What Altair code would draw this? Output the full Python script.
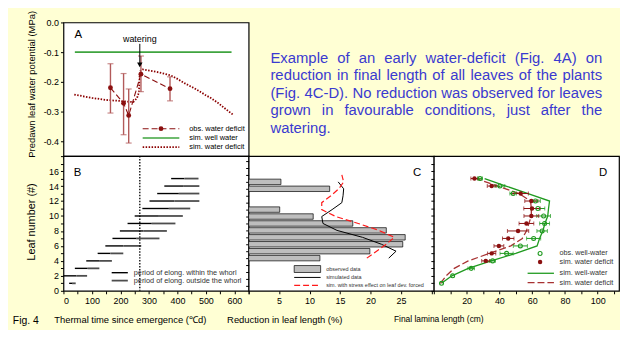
import altair as alt
import pandas as pd

FONT = "Liberation Sans"
BG = "#FFFFD4"
BLUE = "#3A3AD0"
GREEN_A = "#3FA43F"
GREEN_D = "#1F9A1F"
DARKRED = "#8B1010"
ERR_A = "#B25A5A"
DASH_D = "#A83232"
RED_C = "#FF1A1A"

# ---------------- Panel A: predawn leaf water potential ----------------
obs_tt = [165, 211, 229, 272, 374]
obs_psi = [-0.220, -0.272, -0.313, -0.174, -0.223]
obs_lo = [-0.305, -0.378, -0.406, -0.233, -0.264]
obs_hi = [-0.139, -0.172, -0.224, -0.113, -0.183]
well_tt = [40, 590]
well_psi = [-0.100, -0.100]
def_tt = [38, 100, 150, 209, 245, 258, 265, 268, 278, 330, 376, 400, 428, 460, 498, 520, 544, 570, 596]
def_psi = [-0.243, -0.254, -0.261, -0.265, -0.268, -0.255, -0.235, -0.165, -0.158, -0.167,
           -0.178, -0.190, -0.206, -0.222, -0.244, -0.256, -0.272, -0.292, -0.311]
watering_tt = 268
arrow_top, arrow_tip = -0.072, -0.143

# ---------------- Panel B: elongation periods ----------------
leaf_no = list(range(1, 16))
whorl_start = [20, 0, 40, 80, 120, 147, 172, 198, 225, 250, 277, 302, 329, 354, 378]
whorl_end = [30, 45, 85, 125, 165, 210, 255, 280, 310, 335, 370, 390, 405, 420, 425]
elong_end = [43, 83, 126, 170, 210, 273, 337, 363, 393, 419, 445, 477, 477, 477, 474]

# ---------------- Panel C: reduction in leaf length ----------------
bar_leaf = [4, 5, 6, 7, 8, 9, 10, 11, 14, 15]
bar_red = [11.7, 19.9, 25.3, 25.7, 22.6, 17.1, 10.6, 5.1, 13.3, 5.3]
sim_leaf = [4, 5, 6, 7, 8, 9, 10, 11, 12, 13, 14, 15]
sim_red = [23.0, 24.2, 21.8, 18.7, 14.5, 12.2, 12.0, 13.7, 15.3, 15.5, 15.6, 14.7]
frc_leaf = [4, 5, 6, 7, 8, 9, 10, 11, 12, 13, 14, 15, 16]
frc_red = [19.4, 21.0, 22.6, 23.9, 21.4, 18.0, 14.3, 12.0, 12.0, 13.5, 14.8, 15.6, 15.3]

# ---------------- Panel D: final lamina length ----------------
ww_leaf = list(range(1, 16))
ww_len = [4.7, 11.5, 22.8, 35.9, 44.4, 52.8, 60.9, 66.1, 67.6, 67.0, 63.5, 62.0, 48.4, 40.3, 28.2]
ww_err = [0, 0, 2.0, 1.7, 4.0, 4.3, 4.3, 3.2, 3.0, 4.2, 4.2, 3.0, 2.0, 3.0, 1.5]
wd_leaf = list(range(4, 16))
wd_len = [31.7, 35.3, 39.7, 45.4, 51.4, 56.5, 59.5, 59.9, 59.5, 53.0, 35.3, 24.8]
wd_err = [2.5, 2.5, 3.0, 3.5, 6.5, 4.5, 4.5, 5.0, 4.0, 4.7, 2.7, 2.2]
simww_len = [4.7, 11.0, 21.0, 35.0, 50.0, 63.0, 64.5, 66.5, 67.8, 69.5, 70.0, 70.6, 57.5, 44.0, 31.0]
simwd_len = [4.0, 7.5, 12.5, 21.0, 34.0, 47.0, 54.0, 56.5, 58.0, 59.5, 59.5, 59.0, 52.0, 39.0, 26.0]

# ---------------- texts ----------------
legA_labels = ["obs. water deficit", "sim. well water", "sim. water deficit"]
legB_labels = ["period of elong. within the whorl", "period of elong. outside the whorl"]
legC_labels = ["observed data", "simulated data", "sim. with stress effect on leaf dev. forced"]
legD_labels = ["obs. well-water", "sim. water deficit", "sim. well-water", "sim. water deficit"]
para_lines = [
    "Example of an early water-deficit (Fig. 4A) on",
    "reduction in final length of all leaves of the plants",
    "(Fig. 4C-D). No reduction was observed for leaves",
    "grown in favourable conditions, just after the",
    "watering.",
]

W, HA, HB = 187, 135, 136
ONE = pd.DataFrame({"k": [0]})
VIEW = alt.ViewBackground(fill="white", stroke="black", strokeWidth=1.2)


def txt(x, y, label, size, color="black", align="left"):
    return alt.Chart(pd.DataFrame({"t": [label]})).mark_text(
        align=align, baseline="middle", font=FONT, fontSize=size, color=color
    ).encode(x=alt.value(x), y=alt.value(y), text="t:N")


def lrule(x1, x2, y, color, width, dash=None):
    kw = dict(color=color, strokeWidth=width)
    if dash:
        kw["strokeDash"] = dash
    return alt.Chart(ONE).mark_rule(**kw).encode(x=alt.value(x1), x2=alt.value(x2), y=alt.value(y))


# ================= Panel A =================
xA = alt.Scale(domain=[0, 650], nice=False, zero=False)
yA = alt.Scale(domain=[-0.45, 0.0], nice=False, zero=False)
axA_x = alt.Axis(values=list(range(0, 651, 50)), labels=False, title=None, tickSize=3, domain=False, grid=False)
axA_y = alt.Axis(values=[0, -0.1, -0.2, -0.3, -0.4],
                 labelExpr="datum.value == 0 ? '0.0' : '-' + format(abs(datum.value), '.1f')",
                 title="Predawn leaf water potential (MPa)", titleFontSize=9.5,
                 titleX=-32, titleY=62, titleBaseline="middle", titleAlign="center",
                 tickSize=3, domain=False, grid=False, labelPadding=2)


def ax(f):
    return alt.X(f, type="quantitative", scale=xA, axis=axA_x)


def ay(f):
    return alt.Y(f, type="quantitative", scale=yA, axis=axA_y)


dfA_obs = pd.DataFrame({"x": obs_tt, "y": obs_psi, "lo": obs_lo, "hi": obs_hi, "i": range(len(obs_tt))})
dfA_well = pd.DataFrame({"x": well_tt, "y": well_psi})
dfA_def = pd.DataFrame({"x": def_tt, "y": def_psi, "i": range(len(def_tt))})
dfA_arrow = pd.DataFrame({"x": [watering_tt], "y": [arrow_top], "y2": [arrow_tip], "t": ["watering"]})

A_layers = [
    alt.Chart(dfA_well).mark_line(color=GREEN_A, strokeWidth=1.6).encode(x=ax("x"), y=ay("y")),
    alt.Chart(dfA_def).mark_line(color="#8B0000", strokeWidth=1.8, strokeDash=[1.5, 1.5]).encode(
        x=ax("x"), y=ay("y"), order="i:Q"),
    alt.Chart(dfA_obs).mark_line(color=DARKRED, strokeWidth=1.1, strokeDash=[6, 3]).encode(
        x=ax("x"), y=ay("y"), order="i:Q"),
    alt.Chart(dfA_obs).mark_rule(color=ERR_A, strokeWidth=1.4).encode(x=ax("x"), y=ay("lo"), y2="hi:Q"),
    alt.Chart(dfA_obs).mark_tick(orient="horizontal", size=6, thickness=1.2, color=ERR_A).encode(x=ax("x"), y=ay("lo")),
    alt.Chart(dfA_obs).mark_tick(orient="horizontal", size=6, thickness=1.2, color=ERR_A).encode(x=ax("x"), y=ay("hi")),
    alt.Chart(dfA_obs).mark_circle(size=24, color=DARKRED, opacity=1).encode(x=ax("x"), y=ay("y")),
    alt.Chart(dfA_arrow).mark_rule(color="black", strokeWidth=1).encode(x=ax("x"), y=ay("y"), y2="y2:Q"),
    alt.Chart(dfA_arrow).mark_point(shape="triangle-down", filled=True, size=30, color="black", opacity=1).encode(
        x=ax("x"), y=ay("y2")),
    alt.Chart(dfA_arrow).mark_text(font=FONT, fontSize=9, baseline="middle").encode(
        x=ax("x"), y=alt.value(17), text="t:N"),
    txt(15, 13, "A", 11.5, align="center"),
    # legend
    lrule(80, 117, 107.3, DARKRED, 1.1, [6, 3]),
    alt.Chart(ONE).mark_circle(size=24, color=DARKRED, opacity=1).encode(x=alt.value(98.5), y=alt.value(107.3)),
    lrule(80, 117, 116.7, GREEN_A, 1.6),
    lrule(80, 117, 126, "#8B0000", 1.8, [1.5, 1.5]),
    txt(127, 107.3, legA_labels[0], 7.5),
    txt(127, 116.7, legA_labels[1], 7.5),
    txt(127, 126, legA_labels[2], 7.5),
]
panelA = alt.layer(*A_layers).properties(width=W, height=HA, view=VIEW)

# ================= Paragraph =================
AW = {' ': 278, '(': 333, ')': 333, '-': 333, '.': 278, ',': 278, '4': 556, 'A': 667, 'C': 722, 'D': 722,
      'E': 667, 'F': 611, 'N': 722, 'a': 556, 'b': 556, 'c': 500, 'd': 556, 'e': 556, 'f': 278, 'g': 556,
      'h': 556, 'i': 222, 'j': 222, 'k': 500, 'l': 222, 'm': 833, 'n': 556, 'o': 556, 'p': 556, 'q': 556,
      'r': 333, 's': 500, 't': 278, 'u': 556, 'v': 500, 'w': 722, 'x': 500, 'y': 500, 'z': 500}
PFS = 15
PX0, PWID, PY0, PDY = 22, 335, 35.5, 17.8


def tw(s):
    return sum(AW.get(c, 556) for c in s) * PFS / 1000.0


words = []
for li, line in enumerate(para_lines):
    ws = line.split(" ")
    y = PY0 + li * PDY
    if li < len(para_lines) - 1 and len(ws) > 1:
        gap = (PWID - sum(tw(w) for w in ws)) / (len(ws) - 1)
    else:
        gap = tw(" ")
    x = PX0
    for w in ws:
        words.append({"w": w, "px": x, "py": y})
        x += tw(w) + gap
dfP = pd.DataFrame(words)
panelT = alt.Chart(dfP).mark_text(align="left", baseline="middle", font=FONT, fontSize=PFS, color=BLUE).encode(
    x=alt.X("px:Q", scale=alt.Scale(domain=[0, W], nice=False, zero=False), axis=None),
    y=alt.Y("py:Q", scale=alt.Scale(domain=[HA, 0], nice=False, zero=False), axis=None),
    text="w:N",
).properties(width=W, height=HA)
panelE = alt.Chart(pd.DataFrame({"t": [""]})).mark_text().encode(text="t:N").properties(width=W, height=HA)

# ================= Panel B =================
xB = alt.Scale(domain=[0, 650], nice=False, zero=False)
yL = alt.Scale(domain=[0, 18], nice=False, zero=False)
axB_x = alt.Axis(values=list(range(0, 651, 50)), labelExpr="datum.value % 100 == 0 ? datum.label : ''",
                 title="Thermal time since emergence (\u2103d)", titleFontSize=9.5,
                 titleX=67, titleY=29, titleBaseline="middle", titleAlign="center",
                 tickSize=3, domain=False, grid=False, labelPadding=3)
axB_y = alt.Axis(values=list(range(0, 19)),
                 labelExpr="datum.value % 2 == 0 && datum.value <= 16 ? datum.label : ''",
                 title="Leaf number (#)", titleFontSize=11, titleX=-32, titleY=66,
                 titleBaseline="middle", titleAlign="center",
                 tickSize=3, domain=False, grid=False, labelPadding=2)


def bx(f):
    return alt.X(f, type="quantitative", scale=xB, axis=axB_x)


def by(f):
    return alt.Y(f, type="quantitative", scale=yL, axis=axB_y)


dfB = pd.DataFrame({"leaf": leaf_no, "s": whorl_start, "m": whorl_end, "e": elong_end})
dfB_w = pd.DataFrame({"s": [watering_tt]})
B_layers = [
    alt.Chart(dfB).mark_rule(color="black", strokeWidth=1.4).encode(x=bx("s"), x2="m:Q", y=by("leaf")),
    alt.Chart(dfB).mark_rule(color="#4D4D4D", strokeWidth=1.8).encode(x=bx("m"), x2="e:Q", y=by("leaf")),
    alt.Chart(dfB_w).mark_rule(color="black", strokeWidth=1.3, strokeDash=[1.5, 1.5]).encode(x=bx("s")),
    txt(14.3, 16.7, "B", 11.5, align="center"),
    lrule(48.7, 65, 117.7, "black", 1.4),
    lrule(48.7, 65, 125.7, "#4D4D4D", 1.8),
    txt(71, 117.7, legB_labels[0], 7.4, color="#333333"),
    txt(71, 125.7, legB_labels[1], 7.4, color="#333333"),
    txt(-38, 167, "Fig. 4", 10.5, align="center"),
]
panelB = alt.layer(*B_layers).properties(width=W, height=HB, view=VIEW)

# ================= Panel C =================
xC = alt.Scale(domain=[0, 30.4], nice=False, zero=False)
axC_x = alt.Axis(values=[0, 5, 10, 15, 20, 25, 30], labelExpr="datum.value > 0 && datum.value < 30 ? datum.label : ''",
                 title="Reduction in leaf length (%)", titleFontSize=9.5,
                 titleX=36, titleY=29, titleBaseline="middle", titleAlign="center",
                 tickSize=3, domain=False, grid=False, labelPadding=3)
axC_y = alt.Axis(values=list(range(0, 19)), labels=False, title=None, tickSize=3, domain=False, grid=False)


def cx(f):
    return alt.X(f, type="quantitative", scale=xC, axis=axC_x)


def cy(f):
    return alt.Y(f, type="quantitative", scale=yL, axis=axC_y)


dfC_bar = pd.DataFrame({"v": bar_red, "leaf": bar_leaf})
dfC_sim = pd.DataFrame({"v": sim_red, "leaf": sim_leaf})
dfC_frc = pd.DataFrame({"v": frc_red, "leaf": frc_leaf})
C_layers = [
    alt.Chart(dfC_bar).mark_bar(orient="horizontal", size=5.5, fill="#BEBEBE", stroke="black", strokeWidth=0.7).encode(
        x=cx("v"), y=cy("leaf")),
    alt.Chart(dfC_sim).mark_line(color="black", strokeWidth=1.0).encode(x=cx("v"), y=cy("leaf"), order="leaf:Q"),
    alt.Chart(dfC_frc).mark_line(color=RED_C, strokeWidth=1.2, strokeDash=[6, 3]).encode(
        x=cx("v"), y=cy("leaf"), order="leaf:Q"),
    txt(170, 16.7, "C", 11.5, align="center"),
    alt.Chart(ONE).mark_rect(fill="#BEBEBE", stroke="black", strokeWidth=0.7).encode(
        x=alt.value(46), x2=alt.value(72.7), y=alt.value(110.5), y2=alt.value(117.5)),
    lrule(46, 72.7, 122.5, "black", 1.0),
    lrule(46, 72.7, 130.5, RED_C, 1.2, [6, 3]),
    txt(78.3, 114, legC_labels[0], 5.5, color="#333333"),
    txt(78.3, 122.5, legC_labels[1], 5.5, color="#333333"),
    txt(78.3, 130.5, legC_labels[2], 5.5, color="#333333"),
]
panelC = alt.layer(*C_layers).properties(width=W, height=HB, view=VIEW)

# ================= Panel D =================
xD = alt.Scale(domain=[0, 113], nice=False, zero=False)
axD_x = alt.Axis(values=list(range(0, 111, 10)),
                 labelExpr="datum.value > 0 && datum.value % 20 == 0 ? datum.label : ''",
                 title="Final lamina length (cm)", titleFontSize=8.5,
                 titleX=4.5, titleY=28.5, titleBaseline="middle", titleAlign="center",
                 tickSize=3, domain=False, grid=False, labelPadding=3)
axD_y = alt.Axis(values=list(range(0, 19)), labels=False, title=None, tickSize=3, domain=False, grid=False)


def dx(f):
    return alt.X(f, type="quantitative", scale=xD, axis=axD_x)


def dy(f):
    return alt.Y(f, type="quantitative", scale=yL, axis=axD_y)


dfD_ww = pd.DataFrame({"v": ww_len, "leaf": ww_leaf, "err": ww_err})
dfD_ww["lo"] = dfD_ww["v"] - dfD_ww["err"]
dfD_ww["hi"] = dfD_ww["v"] + dfD_ww["err"]
dfD_wwe = dfD_ww[dfD_ww["err"] > 0]
dfD_wd = pd.DataFrame({"v": wd_len, "leaf": wd_leaf, "err": wd_err})
dfD_wd["lo"] = dfD_wd["v"] - dfD_wd["err"]
dfD_wd["hi"] = dfD_wd["v"] + dfD_wd["err"]
dfD_sww = pd.DataFrame({"v": simww_len, "leaf": ww_leaf})
dfD_swd = pd.DataFrame({"v": simwd_len, "leaf": ww_leaf})

D_layers = [
    alt.Chart(dfD_sww).mark_line(color=GREEN_D, strokeWidth=1.3).encode(x=dx("v"), y=dy("leaf"), order="leaf:Q"),
    alt.Chart(dfD_swd).mark_line(color=DASH_D, strokeWidth=1.3, strokeDash=[7, 3]).encode(
        x=dx("v"), y=dy("leaf"), order="leaf:Q"),
    alt.Chart(dfD_wwe).mark_rule(color=GREEN_D, strokeWidth=1).encode(x=dx("lo"), x2="hi:Q", y=dy("leaf")),
    alt.Chart(dfD_wwe).mark_tick(orient="vertical", size=4, thickness=1, color=GREEN_D).encode(x=dx("lo"), y=dy("leaf")),
    alt.Chart(dfD_wwe).mark_tick(orient="vertical", size=4, thickness=1, color=GREEN_D).encode(x=dx("hi"), y=dy("leaf")),
    alt.Chart(dfD_wd).mark_rule(color=DARKRED, strokeWidth=1).encode(x=dx("lo"), x2="hi:Q", y=dy("leaf")),
    alt.Chart(dfD_wd).mark_tick(orient="vertical", size=4, thickness=1, color=DARKRED).encode(x=dx("lo"), y=dy("leaf")),
    alt.Chart(dfD_wd).mark_tick(orient="vertical", size=4, thickness=1, color=DARKRED).encode(x=dx("hi"), y=dy("leaf")),
    alt.Chart(dfD_ww).mark_point(shape="circle", filled=False, size=16, strokeWidth=1.1, color=GREEN_D, opacity=1).encode(
        x=dx("v"), y=dy("leaf")),
    alt.Chart(dfD_wd).mark_circle(size=20, color=DARKRED, opacity=1).encode(x=dx("v"), y=dy("leaf")),
    txt(171, 16.7, "D", 11.5, align="center"),
    alt.Chart(ONE).mark_point(shape="circle", filled=False, size=16, strokeWidth=1.1, color=GREEN_D, opacity=1).encode(
        x=alt.value(107.3), y=alt.value(98.3)),
    alt.Chart(ONE).mark_circle(size=20, color=DARKRED, opacity=1).encode(x=alt.value(107.3), y=alt.value(107)),
    lrule(94.7, 121.3, 118.3, GREEN_D, 1.3),
    lrule(94.7, 121.3, 127.7, DASH_D, 1.3, [7, 3]),
    txt(127, 98.3, legD_labels[0], 7.3, color="#333333"),
    txt(127, 107, legD_labels[1], 7.3, color="#333333"),
    txt(127, 118.3, legD_labels[2], 7.3, color="#333333"),
    txt(127, 127.7, legD_labels[3], 7.3, color="#333333"),
]
panelD = alt.layer(*D_layers).properties(width=W, height=HB, view=VIEW)

chart = alt.concat(panelA, panelT, panelE, panelB, panelC, panelD, columns=3, spacing=0, bounds="flush").properties(
    padding={"left": 4, "top": 0, "right": 0, "bottom": 0}
).configure(background=BG, font=FONT).configure_view(stroke=None).configure_axis(
    labelFont=FONT, titleFont=FONT, labelFontSize=9, labelColor="black", titleColor="black",
    tickColor="black", titleFontWeight="normal"
)

chart.save("out.html", embed_options={"renderer": "svg", "actions": False})
